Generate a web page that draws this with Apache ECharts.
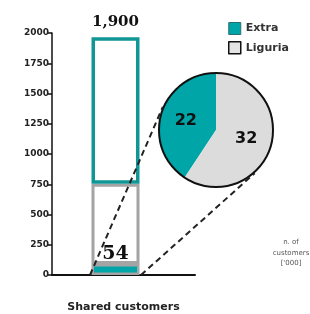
<!DOCTYPE html>
<html>
<head>
<meta charset="utf-8">
<script src="https://cdn.jsdelivr.net/npm/echarts@6/dist/echarts.min.js"></script>
<style>
  html, body { margin: 0; padding: 0; background: #fff; }
  #main { width: 310px; height: 314px; }
</style>
</head>
<body>
<div id="main"></div>
<script>
// 数据
var categories = ['Shared customers'];
var yMin = 0, yMax = 2000, yStep = 250;
// bar segments as drawn, bottom to top
var sharedBar = [90];
var liguriaBar = [665];
var extraBar = [1210];
var totalLabel = '1,900';
var sharedLabel = '54';
var pieNames = ['Extra', 'Liguria'];
var pieValues = [22, 32];
var unitLines = ['n. of', 'customers', "['000]"];

var teal = '#00a5a8';
var tealLine = '#119696';
var grayLine = '#a4a4a4';
var pieGray = '#dcdcdc';
var pieCenter = [216, 130];
var pieRadius = 57;

var myChart = echarts.init(document.getElementById('main'));

var option = {
  backgroundColor: '#fff',
  animation: false,
  legend: {
    orient: 'vertical',
    left: 223,
    top: 17,
    itemWidth: 12,
    itemHeight: 12,
    itemGap: 6,
    icon: 'rect',
    textStyle: { fontFamily: 'DejaVu Sans', fontWeight: 'bold', fontSize: 11, color: '#333' },
    data: [
      { name: pieNames[0], itemStyle: { color: teal, borderColor: '#2a6f70', borderWidth: 1 } },
      { name: pieNames[1], itemStyle: { color: '#e4e4e4', borderColor: '#111', borderWidth: 1.5 } }
    ]
  },
  grid: { left: 52, right: 115, top: 33, bottom: 39 },
  xAxis: {
    type: 'category',
    data: categories,
    axisLine: { lineStyle: { color: '#111', width: 2 } },
    axisTick: { show: false },
    axisLabel: { margin: 27, fontFamily: 'DejaVu Sans', fontWeight: 'bold', fontSize: 11, color: '#222' }
  },
  yAxis: {
    type: 'value',
    min: yMin,
    max: yMax,
    interval: yStep,
    splitLine: { show: false },
    axisLine: { show: true, lineStyle: { color: '#111', width: 1.5 } },
    axisTick: { show: true, length: 4, lineStyle: { color: '#111', width: 1.5 } },
    axisLabel: {
      margin: 3, fontFamily: 'DejaVu Sans', fontWeight: 'bold', fontSize: 9, color: '#222',
      formatter: function (v) { return String(v); }
    }
  },
  series: [
    {
      name: 'sharedBar', type: 'bar', stack: 'total', barWidth: 48, barGap: '0%',
      data: sharedBar, silent: true,
      itemStyle: { color: teal, borderColor: grayLine, borderWidth: 2.5 },
      label: {
        show: true, position: 'top', distance: 1, formatter: sharedLabel,
        fontFamily: 'DejaVu Serif', fontWeight: 'bold', fontSize: 19, color: '#111'
      }
    },
    {
      name: 'liguriaBar', type: 'bar', stack: 'total', barWidth: 48, barGap: '0%',
      data: liguriaBar, silent: true,
      itemStyle: { color: '#fff', borderColor: grayLine, borderWidth: 3 }
    },
    {
      name: 'extraBar', type: 'bar', stack: 'total', barWidth: 48, barGap: '0%',
      data: extraBar, silent: true,
      itemStyle: { color: '#fff', borderColor: tealLine, borderWidth: 3.5 },
      label: {
        show: true, position: 'top', distance: 8, formatter: totalLabel,
        fontFamily: 'DejaVu Serif', fontWeight: 'bold', fontSize: 15, color: '#111'
      }
    },
    {
      // empty spacer so the bar sits left of the band centre
      name: 'spacer', type: 'bar', stack: 'spacer', barWidth: 16, barGap: '0%',
      data: [0], silent: true, itemStyle: { color: 'rgba(0,0,0,0)' }
    },
    {
      name: 'share', type: 'pie', center: pieCenter, radius: pieRadius,
      startAngle: 90, clockwise: false, silent: true,
      data: pieNames.map(function (n, i) { return { name: n, value: pieValues[i] }; }),
      color: [teal, pieGray],
      itemStyle: { borderWidth: 0 },
      label: {
        show: true, position: 'inside', formatter: '{c}',
        fontFamily: 'DejaVu Sans', fontWeight: 'bold', fontSize: 16, color: '#111'
      },
      labelLine: { show: false },
      emphasis: { disabled: true }
    },
    {
      name: 'rim', type: 'pie', center: pieCenter, radius: pieRadius, z: 3,
      silent: true,
      data: [{ name: 'rim', value: 1 }],
      itemStyle: { color: 'rgba(0,0,0,0)', borderColor: '#111', borderWidth: 2 },
      label: { show: false }, labelLine: { show: false },
      emphasis: { disabled: true }
    }
  ]
};

myChart.setOption(option);

// dashed lines from the bar's bottom corners, tangent to the pie
function tangent(p, c, r, sign) {
  var dx = p[0] - c[0], dy = p[1] - c[1];
  var d = Math.sqrt(dx * dx + dy * dy);
  var a = Math.atan2(dy, dx) + sign * Math.acos(r / d);
  return [c[0] + r * Math.cos(a), c[1] + r * Math.sin(a)];
}
var lay = myChart.getModel().getSeriesByIndex(0).getData().getItemLayout(0);
var pLeft = [lay.x - 1.5, lay.y];
var pRight = [lay.x + lay.width + 1.5, lay.y];
var tLeft = tangent(pLeft, pieCenter, pieRadius + 1, 1);
var tRight = tangent(pRight, pieCenter, pieRadius + 1, -1);
var dash = { stroke: '#222', lineWidth: 2, lineDash: [6, 4] };

myChart.setOption({
  graphic: [
    { type: 'line', z: 100, shape: { x1: pLeft[0], y1: pLeft[1], x2: tLeft[0], y2: tLeft[1] }, style: dash },
    { type: 'line', z: 100, shape: { x1: pRight[0], y1: pRight[1], x2: tRight[0], y2: tRight[1] }, style: dash },
    {
      type: 'text', z: 100, x: 291, y: 237,
      style: { text: unitLines.join('\n'), align: 'center', font: '7px DejaVu Sans', fill: '#555', lineHeight: 10.5 }
    }
  ]
});
</script>
</body>
</html>
